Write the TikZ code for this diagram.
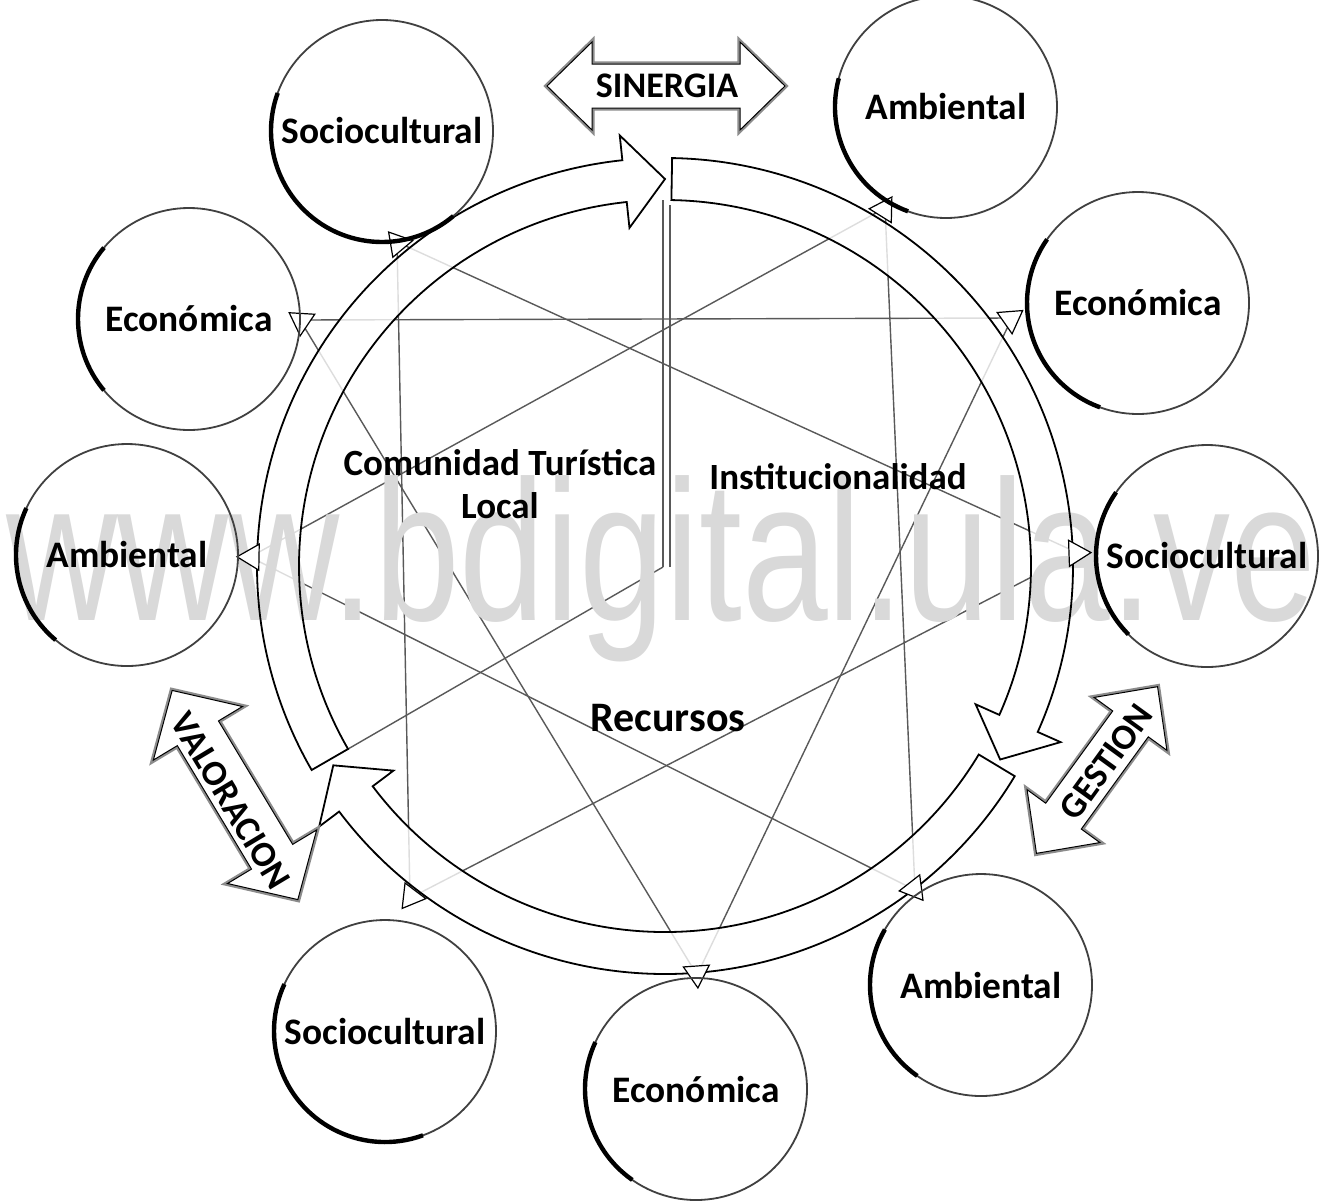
\documentclass[tikz,border=0pt]{standalone}
\usepackage{fontspec}
\usepackage{graphicx}
\setmainfont{Carlito}
\newfontfamily\wmfont{Liberation Sans}
\newcommand\ringarrow[4]{\path[#1] (#2:408) arc[start angle=#2, end angle=#3, radius=408] -- (#3:433) -- (#4:387) -- (#3:340) -- (#3:366) arc[start angle=#3, end angle=#2, radius=366] -- cycle;}
\newcommand\blockarr[6]{\path[blockarrow,shift={#1},rotate=#2] (-#3,0) -- (-#3+#4,-#5) -- (-#3+#4,-#6) -- (#3-#4,-#6) -- (#3-#4,-#5) -- (#3,0) -- (#3-#4,#5) -- (#3-#4,#6) -- (-#3+#4,#6) -- (-#3+#4,#5) -- cycle;}
\newcommand\pinmark[2]{\path[pinmark,shift={(#1)},rotate=-#2] (-9,-13) -- (13,0) -- (-9,13) -- cycle;}
\newcommand\heavyarc[3]{\draw[heavy] ([shift={(#2:111)}]#1.center) arc[start angle=#2, end angle=#3, radius=111];}
\begin{document}
\begin{tikzpicture}[x=0.5pt,y=-0.5pt,
  bub/.style={circle, draw=black!75, line width=0.9pt, minimum size=111pt, inner sep=0pt, font=\bfseries\fontsize{18.7}{22}\selectfont},
  heavy/.style={draw=black, line width=2.2pt},
  ringfill/.style={fill=white, fill opacity=0.8},
  ringline/.style={draw=black, line width=0.9pt},
  net/.style={draw=black!65, line width=0.7pt},
  pinmark/.style={draw=black, line width=0.6pt, fill=white},
  blockarrow/.style={draw=black, line width=0.5pt, fill=white, preaction={draw=black!45, line width=2.6pt}},
  blab/.style={font=\bfseries\fontsize{18}{20}\selectfont, inner sep=0pt},
  seclab/.style={font=\bfseries\fontsize{18.5}{21.5}\selectfont, align=center, inner sep=0pt},
  wm/.style={font=\wmfont\fontsize{100}{100}\selectfont, text=black!15, inner sep=0pt, anchor=base}
]
\useasboundingbox (0,0) rectangle (1321,1200);
\fill[white] (0,0) rectangle (1321,1200);
\coordinate (C) at (665,566);
\coordinate (P1) at (397,242);
\coordinate (P2) at (885,208);
\coordinate (P3) at (1012,318);
\coordinate (P4) at (1078,553);
\coordinate (P5) at (915,890);
\coordinate (P6) at (697,975);
\coordinate (P7) at (410,898);
\coordinate (P8) at (250,557);
\coordinate (P9) at (300,320);
% network of three triangles
\draw[net] (P1) -- (P4) -- (P7) -- cycle;
\draw[net] (P2) -- (P5) -- (P8) -- cycle;
\draw[net] (P3) -- (P6) -- (P9) -- cycle;
% sector dividers
\draw[net] (663,567) -- (663,200);
\draw[net] (670,567) -- (670,205);
\draw[net] (663,567) -- (348,749);
% ring fills
\begin{scope}[shift={(C)}]
\ringarrow{ringfill}{150}{264}{270}
\ringarrow{ringfill}{271}{384}{390}
\ringarrow{ringfill}{31}{143}{149}
\end{scope}
% watermark
\node[wm] (wm) at (661,620) {\scalebox{0.77}[1]{www.bdigital.ula.ve}};
% ring outlines
\begin{scope}[shift={(C)}]
\ringarrow{ringline}{150}{264}{270}
\ringarrow{ringline}{271}{384}{390}
\ringarrow{ringline}{31}{143}{149}
\end{scope}
% markers
\pinmark{P1}{230}
\pinmark{P2}{302}
\pinmark{P3}{325}
\pinmark{P4}{358}
\pinmark{P5}{52}
\pinmark{P6}{86}
\pinmark{P7}{127}
\pinmark{P8}{181}
\pinmark{P9}{214}
% circles
\node[bub] (s1) at (382,131) {Sociocultural};
\node[bub] (a1) at (946,107) {Ambiental};
\node[bub] (e1) at (1138,303) {Económica};
\node[bub] (s2) at (1207,556) {Sociocultural};
\node[bub] (a2) at (981,985) {Ambiental};
\node[bub] (e2) at (696,1089) {Económica};
\node[bub] (s3) at (385,1031) {Sociocultural};
\node[bub] (a3) at (127,555) {Ambiental};
\node[bub] (e3) at (189,319) {Económica};
\heavyarc{s1}{50}{200}
\heavyarc{a1}{110}{195}
\heavyarc{e1}{110}{215}
\heavyarc{s2}{135}{215}
\heavyarc{a2}{125}{210}
\heavyarc{e2}{125}{205}
\heavyarc{s3}{70}{205}
\heavyarc{a3}{130}{205}
\heavyarc{e3}{140}{220}
% block arrows
\blockarr{(666,86)}{0}{119}{45}{44}{22}
\blockarr{(235,795)}{-59}{122}{50}{52}{24}
\blockarr{(1097,770)}{54}{103}{46}{45}{22}
\node[blab] (sin) at (667,86) {SINERGIA};
\node[blab, rotate=-59] (val) at (231,801) {VALORACION};
\node[blab, rotate=54] (ges) at (1106,762) {GESTION};
% sector labels
\node[seclab] (com) at (500,484) {Comunidad Turística\\Local};
\node[seclab] (ins) at (838,477) {Institucionalidad};
\node[seclab, font=\bfseries\fontsize{21}{24}\selectfont] (rec) at (668,718) {Recursos};
\end{tikzpicture}
\end{document}
